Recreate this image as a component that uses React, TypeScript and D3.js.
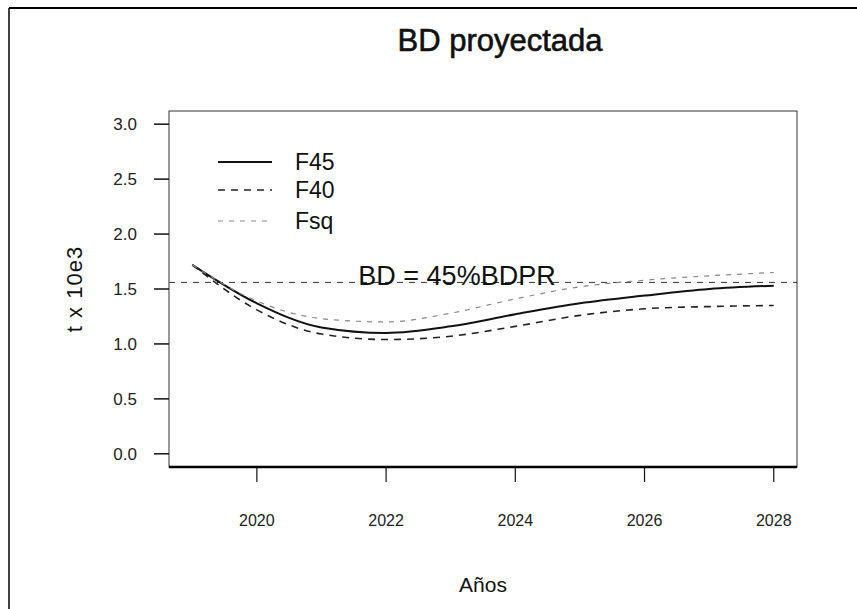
import React from "react";
import * as d3 from "d3";

const years = [2019, 2020, 2021, 2022, 2023, 2024, 2025, 2026, 2027, 2028];
const f45 = [1.72, 1.37, 1.15, 1.10, 1.16, 1.27, 1.37, 1.44, 1.50, 1.53];
const f40 = [1.72, 1.31, 1.09, 1.04, 1.07, 1.16, 1.26, 1.32, 1.34, 1.35];
const fsq = [1.72, 1.39, 1.23, 1.20, 1.28, 1.41, 1.52, 1.58, 1.62, 1.65];
const refValue = 1.56;
const refLabel = "BD = 45%BDPR";
const xTicks = [2020, 2022, 2024, 2026, 2028];
const yTicks = [0, 0.5, 1, 1.5, 2, 2.5, 3];
const legendNames = ["F45", "F40", "Fsq"];
const title = "BD proyectada";
const xLabel = "Años";
const yLabel = "t x 10e3";

const W = 857;
const H = 609;
const box = { x0: 169, x1: 797, y0: 111, y1: 467 };
const FONT = "'Liberation Sans', Arial, Helvetica, sans-serif";

export default function App() {
  const x = d3.scaleLinear().domain([2018.64, 2028.36]).range([box.x0, box.x1]);
  const y = d3.scaleLinear().domain([-0.12, 3.12]).range([box.y1, box.y0]);
  const line = d3
    .line<number>()
    .x((_, i) => x(years[i]))
    .y((v) => y(v))
    .curve(d3.curveMonotoneX);

  const series = [
    { name: legendNames[0], values: f45, stroke: "#111", width: 2, dash: undefined as string | undefined },
    { name: legendNames[1], values: f40, stroke: "#222", width: 1.6, dash: "7,6" },
    { name: legendNames[2], values: fsq, stroke: "#888", width: 1.2, dash: "5,6" },
  ];
  const legendRows = [162, 190, 221];

  return (
    <svg width={W} height={H} style={{ position: "absolute", left: 0, top: 0 }} fontFamily={FONT}>
      <rect x={0} y={0} width={W} height={H} fill="#fff" />
      {/* outer frame */}
      <line x1={9} x2={W} y1={8} y2={8} stroke="#000" strokeWidth={2} />
      <line x1={9} x2={9} y1={8} y2={H} stroke="#000" strokeWidth={1.5} />

      <text x={500} y={51} textAnchor="middle" fontSize={31} fill="#111" stroke="#111" strokeWidth={0.6}>
        {title}
      </text>

      {/* plot box */}
      <rect x={box.x0} y={box.y0} width={box.x1 - box.x0} height={box.y1 - box.y0} fill="none" stroke="#333" strokeWidth={1} />
      <line x1={box.x0} x2={box.x1} y1={box.y1} y2={box.y1} stroke="#000" strokeWidth={2.5} />

      {/* y axis */}
      {yTicks.map((t) => (
        <g key={"y" + t}>
          <line x1={box.x0 - 15} x2={box.x0} y1={y(t)} y2={y(t)} stroke="#111" strokeWidth={1.5} />
          <text x={137} y={y(t) + 6} textAnchor="end" fontSize={17} fill="#222">
            {t.toFixed(1)}
          </text>
        </g>
      ))}
      <text
        transform={`translate(82, ${(box.y0 + box.y1) / 2}) rotate(-90)`}
        textAnchor="middle"
        fontSize={22}
        letterSpacing={1}
        fill="#111"
      >
        {yLabel}
      </text>

      {/* x axis */}
      {xTicks.map((t) => (
        <g key={"x" + t}>
          <line x1={x(t)} x2={x(t)} y1={box.y1} y2={box.y1 + 15} stroke="#111" strokeWidth={1.2} />
          <text x={x(t)} y={526} textAnchor="middle" fontSize={16} fill="#222">
            {t}
          </text>
        </g>
      ))}
      <text x={(box.x0 + box.x1) / 2} y={592} textAnchor="middle" fontSize={21} fill="#111">
        {xLabel}
      </text>

      {/* reference line */}
      <line x1={box.x0} x2={box.x1} y1={y(refValue)} y2={y(refValue)} stroke="#333" strokeWidth={1} strokeDasharray="6,6" />
      <text x={457} y={y(refValue) + 3} textAnchor="middle" fontSize={27} fill="#111">
        {refLabel}
      </text>

      {/* series */}
      {series.map((s) => (
        <path key={s.name} d={line(s.values) || ""} fill="none" stroke={s.stroke} strokeWidth={s.width} strokeDasharray={s.dash} />
      ))}

      {/* legend */}
      {series.map((s, i) => (
        <g key={"lg" + s.name}>
          <line x1={218} x2={272} y1={legendRows[i]} y2={legendRows[i]} stroke={s.stroke} strokeWidth={s.width} strokeDasharray={s.dash} />
          <text x={295} y={legendRows[i] + 8} fontSize={23} fill="#111">
            {s.name}
          </text>
        </g>
      ))}
    </svg>
  );
}
